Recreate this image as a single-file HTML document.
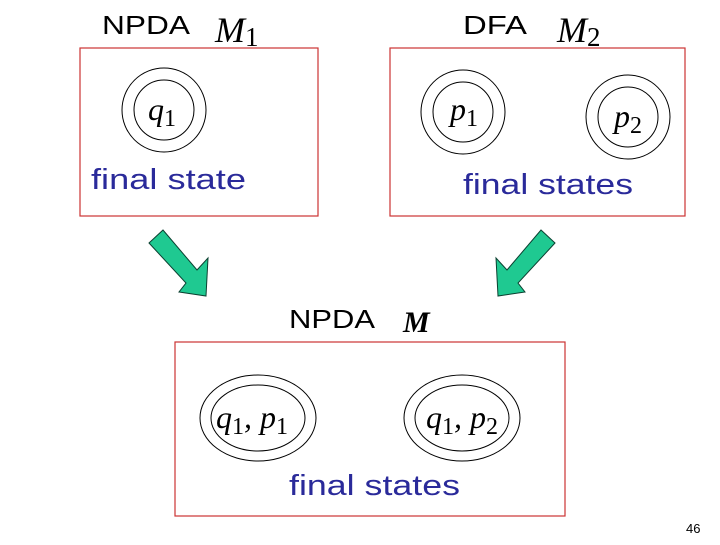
<!DOCTYPE html>
<html><head><style>
body{margin:0;background:#fff;width:720px;height:540px;overflow:hidden}
</style></head><body>
<svg width="720" height="540" xmlns="http://www.w3.org/2000/svg">
<g font-family="Liberation Sans, sans-serif" font-size="26" fill="#000">
<text x="102" y="34" textLength="88" lengthAdjust="spacingAndGlyphs">NPDA</text>
<text x="463" y="34" textLength="64" lengthAdjust="spacingAndGlyphs">DFA</text>
<text x="289" y="328" textLength="86" lengthAdjust="spacingAndGlyphs">NPDA</text>
</g>
<g font-family="Liberation Serif, serif" font-style="italic" fill="#000">
<text x="215" y="42" font-size="36">M<tspan font-style="normal" font-size="27" dy="4">1</tspan></text>
<text x="557" y="42" font-size="36">M<tspan font-style="normal" font-size="27" dy="4">2</tspan></text>
<text x="403" y="332" font-size="30" font-weight="bold">M</text>
</g>
<g fill="none" stroke="#c33" stroke-width="1.2">
<rect x="80" y="48" width="238" height="168"/>
<rect x="390" y="48" width="295" height="168"/>
<rect x="175" y="342" width="390" height="174"/>
</g>
<g fill="none" stroke="#000" stroke-width="1">
<circle cx="164" cy="110" r="42"/><circle cx="164" cy="110" r="30"/>
<circle cx="463" cy="112" r="42"/><circle cx="463" cy="112" r="30"/>
<circle cx="628" cy="117" r="42"/><circle cx="628" cy="117" r="30"/>
<ellipse cx="258" cy="418" rx="58" ry="43"/><ellipse cx="258" cy="418" rx="47" ry="33"/>
<ellipse cx="462" cy="418" rx="58" ry="43"/><ellipse cx="462" cy="418" rx="47" ry="33"/>
</g>
<g font-family="Liberation Serif, serif" font-style="italic" font-size="32" fill="#000">
<text x="148" y="120">q<tspan font-style="normal" font-size="24" dy="6">1</tspan></text>
<text x="450" y="120">p<tspan font-style="normal" font-size="24" dy="6">1</tspan></text>
<text x="614" y="127">p<tspan font-style="normal" font-size="24" dy="6">2</tspan></text>
<text x="216" y="428">q<tspan font-style="normal" font-size="24" dy="6">1</tspan><tspan dy="-6">, p</tspan><tspan font-style="normal" font-size="24" dy="6">1</tspan></text>
<text x="426" y="428">q<tspan font-style="normal" font-size="24" dy="6">1</tspan><tspan dy="-6">, p</tspan><tspan font-style="normal" font-size="24" dy="6">2</tspan></text>
</g>
<g font-family="Liberation Sans, sans-serif" font-size="29" fill="#2a2a9a">
<text x="91" y="189" textLength="155" lengthAdjust="spacingAndGlyphs">final state</text>
<text x="463" y="194" textLength="170" lengthAdjust="spacingAndGlyphs">final states</text>
<text x="289" y="495" textLength="171" lengthAdjust="spacingAndGlyphs">final states</text>
</g>
<g fill="#1fc991" stroke="#0a4030" stroke-width="1">
<polygon points="149,243 163,230 197,270 208,258 206,296 179,292 186,283"/>
<polygon points="555,243 541,230 507,270 496,258 498,296 525,292 518,283"/>
</g>
<text x="686" y="533" font-family="Liberation Sans, sans-serif" font-size="13" fill="#000">46</text>
</svg>
</body></html>
